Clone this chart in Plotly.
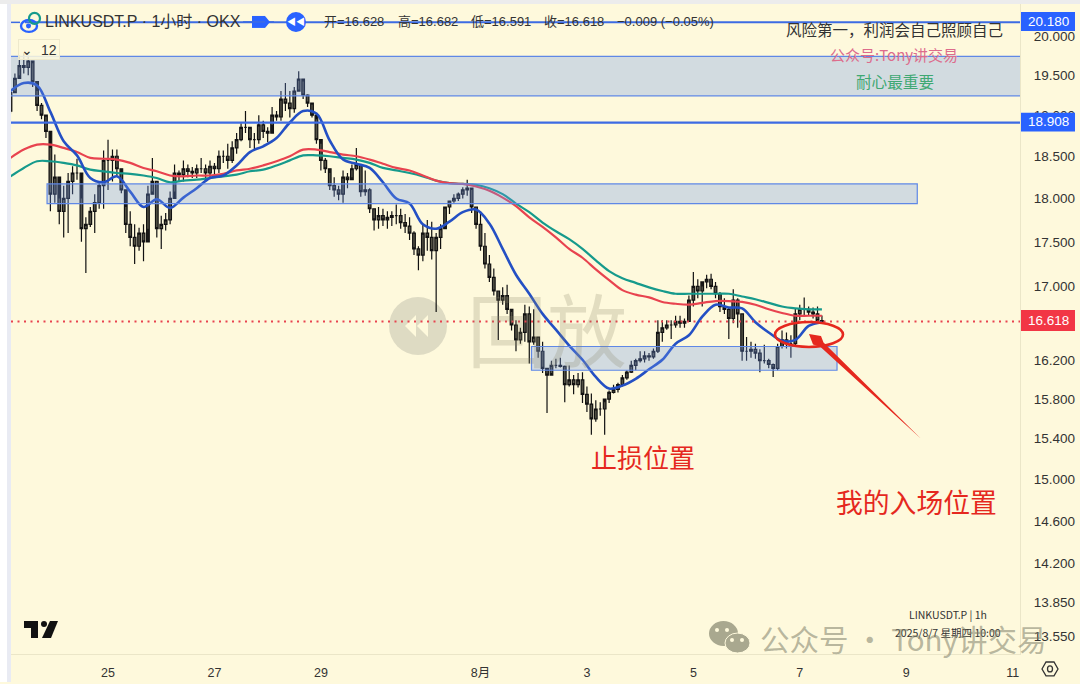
import numpy as np
import pandas as pd
import plotly.graph_objects as go

W, H = 1080, 684
L, R, T, B = 11, 60, 4, 28

# 2h candles, 23 Jul 04:00 -> 7 Aug 10:00
highs = [19.33,19.52,19.75,19.78,19.75,19.65,19.3,19.15,18.98,18.6,
         18.52,18.0,18.15,18.3,18.38,18.47,18.0,17.78,17.9,18.05,
         18.2,18.57,18.7,18.58,18.58,18.3,17.9,17.85,17.7,17.66,
         17.7,18.15,18.48,18.2,17.8,17.83,18.08,18.4,18.33,18.45,
         18.4,18.37,18.4,18.48,18.4,18.45,18.42,18.57,18.57,18.65,
         18.68,18.78,18.9,19.05,18.83,18.78,19.0,18.93,18.85,19.1,
         19.05,19.3,19.4,19.3,19.35,19.55,19.42,19.26,19.13,18.95,
         18.65,18.48,18.3,18.25,18.15,18.33,18.3,18.4,18.6,18.4,
         18.33,18.12,17.87,17.9,17.88,17.85,17.85,17.93,17.88,17.82,
         17.78,17.62,17.45,17.7,17.75,17.73,17.6,17.7,17.88,17.97,
         18.05,18.07,18.13,18.22,18.1,17.9,17.85,17.6,17.35,17.2,
         16.95,16.99,17.02,16.72,16.63,16.55,16.8,16.78,16.75,16.45,
         16.4,16.1,16.2,16.22,16.23,16.15,16.15,16.05,16.07,16.08,
         15.93,15.86,15.79,15.77,15.77,15.89,15.95,15.97,16.05,16.1,
         16.2,16.22,16.3,16.3,16.28,16.33,16.63,16.63,16.63,16.63,
         16.68,16.68,16.65,16.9,17.16,17.08,17.0,17.13,17.14,17.05,
         16.94,16.87,16.77,16.97,16.87,16.7,16.45,16.4,16.38,16.32,
         16.37,16.22,16.17,16.38,16.52,16.5,16.47,16.76,16.8,16.88,
         16.78,16.77,16.78,16.682]
lows = [19.02,19.3,19.5,19.52,19.5,19.35,19.05,18.95,18.72,17.85,
        17.95,17.7,17.55,17.6,18.05,18.22,17.5,17.15,17.67,17.6,
        17.88,17.88,18.1,18.2,18.27,18.06,17.6,17.45,17.25,17.4,
        17.28,17.65,18.08,17.55,17.42,17.63,17.7,18.08,18.2,18.2,
        18.25,18.24,18.24,18.3,18.2,18.25,18.28,18.3,18.42,18.35,
        18.42,18.53,18.68,18.78,18.6,18.57,18.65,18.72,18.67,18.88,
        18.93,18.93,19.05,18.97,19.03,19.32,19.2,19.1,18.97,18.65,
        18.33,18.3,18.1,18.02,17.98,17.95,18.12,18.25,18.33,18.02,
        18.03,17.83,17.63,17.65,17.68,17.65,17.68,17.7,17.65,17.6,
        17.52,17.35,17.18,17.28,17.4,17.3,16.72,17.42,17.68,17.82,
        17.95,17.97,18.0,18.03,17.83,17.65,17.4,17.2,17.05,16.9,
        16.42,16.8,16.7,16.52,16.3,16.38,16.4,16.17,16.37,16.23,
        16.07,15.66,16.07,16.12,16.13,15.77,15.93,15.85,15.92,15.76,
        15.67,15.44,15.57,15.63,15.44,15.76,15.86,15.87,15.93,16.0,
        16.07,16.1,16.18,16.18,16.2,16.22,16.28,16.4,16.53,16.43,
        16.55,16.55,16.55,16.62,16.78,16.87,16.78,16.98,16.97,16.87,
        16.72,16.7,16.43,16.6,16.55,16.2,16.2,16.23,16.22,16.08,
        16.17,16.12,16.03,16.1,16.33,16.33,16.23,16.35,16.63,16.68,
        16.68,16.65,16.63,16.591]
closes = [19.28,19.46,19.62,19.6,19.68,19.42,19.12,19.0,18.8,18.05,
          18.25,17.85,18.0,18.2,18.3,18.3,17.65,17.7,17.85,17.95,
          18.15,18.45,18.45,18.5,18.35,18.1,17.7,17.55,17.45,17.6,
          17.5,18.05,18.2,17.65,17.7,17.75,18.0,18.3,18.28,18.35,
          18.32,18.3,18.35,18.35,18.3,18.38,18.35,18.5,18.5,18.45,
          18.6,18.7,18.85,18.85,18.7,18.7,18.88,18.8,18.78,19.0,
          18.98,19.2,19.15,19.08,19.3,19.45,19.25,19.15,19.0,18.7,
          18.45,18.35,18.15,18.1,18.05,18.25,18.22,18.35,18.4,18.08,
          18.1,17.88,17.75,17.8,17.75,17.78,17.8,17.8,17.72,17.68,
          17.6,17.42,17.35,17.6,17.55,17.4,17.55,17.65,17.9,17.97,
          18.0,18.05,18.1,18.12,17.9,17.7,17.45,17.25,17.1,16.95,
          16.85,16.9,16.75,16.58,16.42,16.5,16.7,16.4,16.45,16.3,
          16.12,16.05,16.15,16.15,16.14,15.95,16.0,15.95,16.0,15.85,
          15.75,15.6,15.7,15.7,15.8,15.87,15.9,15.95,16.02,16.08,
          16.15,16.2,16.22,16.25,16.24,16.3,16.5,16.55,16.58,16.58,
          16.62,16.6,16.62,16.85,17.0,16.95,17.05,17.08,17.0,16.92,
          16.78,16.75,16.65,16.85,16.7,16.3,16.3,16.32,16.28,16.2,
          16.2,16.16,16.12,16.35,16.42,16.38,16.38,16.7,16.75,16.75,
          16.72,16.7,16.628,16.618]
opens = [19.05] + closes[:-1]
candle_times = pd.date_range("2025-07-23 04:00", periods=len(closes), freq="2h")

# moving averages, one reading every 6h
ma_fast = [19.30,19.40,19.37,19.04,18.68,18.51,18.24,18.19,18.26,18.08,
           17.90,17.99,17.89,18.01,18.12,18.24,18.27,18.39,18.55,18.62,
           18.72,18.91,19.05,19.02,18.69,18.46,18.41,18.36,18.19,18.00,
           17.94,17.70,17.65,17.73,17.84,17.87,17.71,17.42,17.13,16.92,
           16.70,16.53,16.36,16.21,16.03,15.91,15.94,16.01,16.11,16.21,
           16.38,16.47,16.67,16.80,16.77,16.76,16.61,16.50,16.41,16.42,
           16.57,16.61]
ma_mid = [18.48,18.58,18.64,18.64,18.60,18.55,18.48,18.47,18.46,18.42,
          18.36,18.32,18.27,18.26,18.27,18.27,18.29,18.33,18.35,18.39,
          18.44,18.50,18.58,18.58,18.55,18.52,18.50,18.46,18.41,18.36,
          18.33,18.27,18.21,18.18,18.17,18.14,18.09,18.01,17.91,17.78,
          17.67,17.55,17.42,17.32,17.19,17.07,16.96,16.91,16.88,16.83,
          16.81,16.80,16.82,16.84,16.84,16.83,16.80,16.75,16.71,16.68,
          16.68,16.68]
ma_slow = [18.26,18.36,18.44,18.44,18.42,18.39,18.34,18.32,18.30,18.29,
           18.27,18.24,18.19,18.21,18.22,18.24,18.26,18.28,18.32,18.34,
           18.39,18.45,18.51,18.51,18.50,18.48,18.46,18.42,18.36,18.33,
           18.30,18.26,18.21,18.18,18.17,18.16,18.12,18.05,17.94,17.84,
           17.72,17.62,17.53,17.42,17.29,17.17,17.09,17.04,16.99,16.95,
           16.92,16.92,16.92,16.92,16.92,16.89,16.86,16.82,16.78,16.76,
           16.75,16.75]
ma_times = pd.date_range("2025-07-23 04:00", periods=len(ma_fast), freq="6h")

price_ticks = [20.0, 19.5, 19.0, 18.5, 18.0, 17.5, 17.0, 16.2, 15.8, 15.4, 15.0, 14.6, 14.2, 13.85, 13.55]
date_ticks = ["2025-07-25", "2025-07-27", "2025-07-29", "2025-08-01", "2025-08-03",
              "2025-08-05", "2025-08-07", "2025-08-09", "2025-08-11"]
date_labels = ["25", "27", "29", "8月", "3", "5", "7", "9", "11"]

BG = "#fef9dc"
FONT = "Liberation Sans, Noto Sans CJK SC"
CJK = "Noto Sans CJK SC, Liberation Sans"
LINE_BLUE = "#3d6be3"
BAND_EDGE = "#5f88e6"
BAND_FILL = "rgba(110,149,236,0.30)"


# screen pixels -> paper coords, for the drawn-on notes
def px(x):
    return (x - L) / (W - L - R)


def py(y):
    return 1 - (y - T) / (H - T - B)


def pts(*xy):
    return "M " + " L ".join(f"{px(x):.5f} {py(y):.5f}" for x, y in xy) + " Z"


fig = go.Figure()

fig.add_trace(go.Candlestick(
    x=candle_times, open=opens, high=highs, low=lows, close=closes,
    increasing=dict(line=dict(color="#111111", width=1.2), fillcolor="rgba(40,40,32,0.8)"),
    decreasing=dict(line=dict(color="#111111", width=1.2), fillcolor="rgba(40,40,32,0.8)"),
    whiskerwidth=0, showlegend=False,
))
fig.add_trace(go.Scatter(x=ma_times, y=ma_slow, mode="lines", showlegend=False,
                         line=dict(color="#169a8c", width=2.2, shape="spline")))
fig.add_trace(go.Scatter(x=ma_times, y=ma_mid, mode="lines", showlegend=False,
                         line=dict(color="#e8434f", width=2.2, shape="spline")))
fig.add_trace(go.Scatter(x=ma_times, y=ma_fast, mode="lines", showlegend=False,
                         line=dict(color="#2450c4", width=2.6, shape="spline")))


def add_band(x0, x1, top, bottom):
    fig.add_shape(type="rect", xref="x", yref="y", x0=x0, x1=x1, y0=bottom, y1=top,
                  fillcolor=BAND_FILL, line=dict(color=BAND_EDGE, width=1.2), layer="above")


add_band("2025-07-22", "2025-08-12", 19.74, 19.24)
add_band("2025-07-23 20:30", "2025-08-09 05:00", 18.17, 17.94)
add_band("2025-08-01 23:00", "2025-08-07 16:48", 16.35, 16.10)

fig.add_shape(type="line", xref="paper", yref="y", x0=px(25), x1=1, y0=20.18, y1=20.18,
              line=dict(color=LINE_BLUE, width=2))
fig.add_shape(type="line", xref="paper", yref="y", x0=px(11), x1=px(25), y0=20.18, y1=20.18,
              line=dict(color=LINE_BLUE, width=1.5, dash="dash"))
fig.add_shape(type="line", xref="paper", yref="y", x0=0, x1=1, y0=18.908, y1=18.908,
              line=dict(color=LINE_BLUE, width=2.2))
fig.add_shape(type="line", xref="paper", yref="y", x0=0, x1=1, y0=16.618, y1=16.618,
              line=dict(color="#e8434f", width=2, dash="2px,4.5px"))

shapes_px = [
    # page edge outside the chart
    dict(x0=0, x1=1080, y0=0, y1=4, color="#ececec"),
    dict(x0=0, x1=7, y0=4, y1=684, color="#ffffff"),
    dict(x0=7, x1=11, y0=4, y1=684, color="#e9ebf3"),
    # price flags on the axis
    dict(x0=1021, x1=1075, y0=12, y1=31, color="#2962ff"),
    dict(x0=1021, x1=1075, y0=113, y1=132, color="#2962ff"),
    dict(x0=1021, x1=1075, y0=311, y1=332, color="#f23645"),
    # header buttons
    dict(x0=252, x1=265, y0=16, y1=28, color="#2962ff"),
]
for s in shapes_px:
    fig.add_shape(type="rect", xref="paper", yref="paper", x0=px(s["x0"]), x1=px(s["x1"]),
                  y0=py(s["y1"]), y1=py(s["y0"]), fillcolor=s["color"], line_width=0, layer="above")


def circle(x0, y0, x1, y1, fill=None, line=None, width=0, layer="above"):
    fig.add_shape(type="circle", xref="paper", yref="paper", x0=px(x0), x1=px(x1),
                  y0=py(y1), y1=py(y0), fillcolor=fill or "rgba(0,0,0,0)",
                  line=dict(color=line or "rgba(0,0,0,0)", width=width), layer=layer)


def poly(path, fill, layer="above"):
    fig.add_shape(type="path", xref="paper", yref="paper", path=path,
                  fillcolor=fill, line_width=0, layer=layer)


# header icons
fig.add_shape(type="line", xref="paper", yref="paper", x0=px(243), x1=px(274), y0=py(22), y1=py(22),
              line=dict(color=LINE_BLUE, width=1.5), layer="above")
poly(pts((265, 16), (270, 22), (265, 28)), "#2962ff")
circle(286, 12, 306, 32, fill="#2962ff")
circle(21, 20, 37, 32, line="#2962ff", width=2.4)
circle(26, 23.5, 31, 28.5, fill="#2962ff")
circle(29, 13, 40, 24, line="#169a8c", width=2.2)

# replay watermark circle + trading view mark + wechat bubbles
circle(389, 298, 447, 356, fill="#dedbc3", layer="below")
poly(pts((405, 327), (416, 316), (416, 338)), BG, layer="below")
poly(pts((417, 327), (428, 316), (428, 338)), BG, layer="below")
poly(pts((24, 623), (38, 623), (38, 640), (31, 640), (31, 630), (24, 630)), "#111111")
poly(pts((50, 623), (58, 623), (51, 640), (42, 640)), "#111111")
circle(41, 623, 47, 629, fill="#111111")
circle(709, 623, 738, 648, fill="#a9a88f")
circle(725, 635, 750, 655, fill="#a9a88f", line=BG, width=1)
for ex, ey in [(717, 632), (727, 632), (732, 642), (742, 642)]:
    circle(ex - 2, ey - 2, ex + 2, ey + 2, fill=BG)

# hand drawn entry marker
circle(775, 323, 843, 348, line="#e5281e", width=2.6)
poly(pts((809, 335), (821, 337), (823.5, 343.5), (921, 440), (820, 347.5), (813, 345.5)), "#e5281e")

# axis gear icon
fig.add_shape(type="path", xref="paper", yref="paper", line=dict(color="#333333", width=1.3),
              path=pts((1042, 671), (1046, 664), (1054, 664), (1058, 671), (1054, 678), (1046, 678)), layer="above")
circle(1047.5, 668, 1052.5, 674, line="#333333", width=1.3)


def note(x, y, text, size, color="#333333", family=CJK, anchor="left"):
    fig.add_annotation(xref="paper", yref="paper", x=px(x - 2 if anchor == "left" else x), y=py(y), text=text,
                       showarrow=False, xanchor=anchor, yanchor="middle",
                       font=dict(size=size, color=color, family=family))


note(45, 22, "LINKUSDT.P · 1小时 · OKX", 16, family=FONT)
note(324, 22, "开=16.628", 13, family=FONT)
note(398, 22, "高=16.682", 13, family=FONT)
note(471, 22, "低=16.591", 13, family=FONT)
note(544, 22, "收=16.618", 13, family=FONT)
note(617, 22, "−0.009 (−0.05%)", 13, family=FONT)
note(296, 22, "<b>◀◀</b>", 9, color="#ffffff", anchor="center")
fig.add_annotation(xref="paper", yref="paper", x=px(38.5), y=py(50), text="⌄  12", showarrow=False,
                   xanchor="center", yanchor="middle", width=38, height=17,
                   font=dict(size=14, color="#333333", family=FONT), bgcolor="rgba(254,249,220,0.85)",
                   bordercolor="#eee9cc", borderwidth=1, borderpad=1)

note(786, 29, "风险第一，利润会自己照顾自己", 15.5)
note(830, 55, "公众号:Tony讲交易", 15, color="#dd6c8c")
note(856, 81, "耐心最重要", 15.6, color="#3fa873")
note(591, 458, "止损位置", 26, color="#e5281e")
note(836, 503, "我的入场位置", 26.8, color="#e5281e")

note(547, 327, "回放", 80, color="rgba(140,135,105,0.24)", anchor="center")

note(1048, 22, "20.180", 13.5, color="#ffffff", family=FONT, anchor="center")
note(1048, 122, "18.908", 13.5, color="#ffffff", family=FONT, anchor="center")
note(1048, 321, "16.618", 13.5, color="#ffffff", family=FONT, anchor="center")

note(948, 616, "LINKUSDT.P | 1h", 10.5, anchor="center")
note(948, 634, "2025/8/7 星期四 10:00", 10.5, anchor="center")
note(760, 640, "公众号 · Tony讲交易", 29.5, color="rgba(125,125,105,0.55)")

fig.update_layout(
    width=W, height=H, margin=dict(l=L, r=R, t=T, b=B, pad=0),
    paper_bgcolor=BG, plot_bgcolor=BG, showlegend=False, boxgap=0.15,
    font=dict(family=FONT, size=13, color="#333333"),
    xaxis=dict(type="date", range=["2025-07-23 04:14", "2025-08-11 03:20"], rangeslider=dict(visible=False),
               tickmode="array", tickvals=date_ticks, ticktext=date_labels, tickangle=0,
               showgrid=False, zeroline=False, showline=True, linecolor="#ebe6c8", linewidth=1,
               ticks="outside", ticklen=7, tickcolor="rgba(0,0,0,0)", tickfont=dict(size=12.5)),
    yaxis=dict(type="log", side="right", range=[np.log10(13.391), np.log10(20.422)],
               tickmode="array", tickvals=price_ticks, ticktext=[f"{v:.3f}" for v in price_ticks],
               showgrid=False, zeroline=False, showline=True, linecolor="#ebe6c8", linewidth=1,
               ticks="outside", ticklen=10, tickcolor="rgba(0,0,0,0)", tickfont=dict(size=13.5)),
)

fig.write_html("out.html", config=dict(displayModeBar=False),
               post_script="document.body.style.margin='0';document.body.style.overflow='hidden';")
